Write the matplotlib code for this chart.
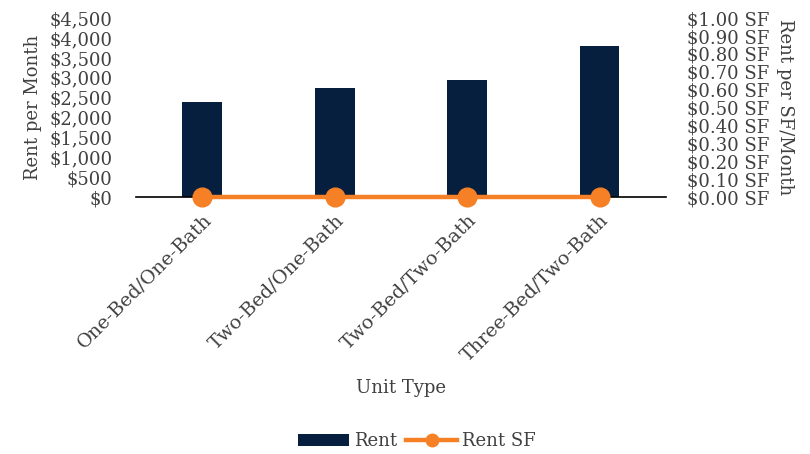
import matplotlib
matplotlib.use("Agg")
import matplotlib.pyplot as plt
from matplotlib.ticker import FuncFormatter, MultipleLocator
from matplotlib.lines import Line2D
from matplotlib.patches import Patch

categories = ["One-Bed/One-Bath", "Two-Bed/One-Bath", "Two-Bed/Two-Bath", "Three-Bed/Two-Bath"]
rent = [2400, 2750, 2950, 3800]
rent_sf = [0.0, 0.0, 0.0, 0.0]

bar_color = "#061F3F"
line_color = "#F58025"
text_color = "#404040"

plt.rcParams['font.family'] = ['DejaVu Serif']
fs = 13

fig = plt.figure(figsize=(8.10, 4.54), dpi=100)
ax = fig.add_axes([0.168, 0.566, 0.654, 0.394])
x = list(range(len(categories)))
ax.bar(x, rent, width=0.3, color=bar_color, label="Rent", zorder=2)
ax.set_xlim(-0.5, len(categories) - 0.5)
ax.set_ylim(0, 4500)
ax.yaxis.set_major_locator(MultipleLocator(500))
ax.yaxis.set_major_formatter(FuncFormatter(lambda v, p: f"${v:,.0f}"))
for s in ["top", "left", "right"]:
    ax.spines[s].set_visible(False)
ax.spines["bottom"].set_color("black")
ax.spines["bottom"].set_linewidth(1.2)
ax.tick_params(axis="y", length=0, labelsize=fs, colors=text_color, pad=17)
ax.set_xticks(x)
ax.set_xticklabels(categories, rotation=45, ha="right", rotation_mode="anchor")
ax.tick_params(axis="x", length=0, labelsize=13.8, colors=text_color, pad=10)
ax.set_ylabel("Rent per Month", fontsize=fs, color=text_color, labelpad=5)
ax.set_xlabel("Unit Type", fontsize=fs, color=text_color, labelpad=10)

ax2 = ax.twinx()
ax2.plot(x, rent_sf, color=line_color, linewidth=3.2, marker="o", markersize=13.5,
         label="Rent SF", zorder=3, clip_on=False)
ax2.set_ylim(0, 1.0)
ax2.yaxis.set_major_locator(MultipleLocator(0.1))
ax2.yaxis.set_major_formatter(FuncFormatter(lambda v, p: f"${v:.2f} SF"))
for s in ["top", "left", "right", "bottom"]:
    ax2.spines[s].set_visible(False)
ax2.tick_params(axis="y", length=0, labelsize=fs, colors=text_color, pad=15)
ax2.set_ylabel("Rent per SF/Month", fontsize=fs, color=text_color, rotation=270, labelpad=18)

handles = [Patch(facecolor=bar_color, edgecolor="none"),
           Line2D([], [], color=line_color, linewidth=3.2, marker="o", markersize=9)]
fig.legend(handles, ["Rent", "Rent SF"], loc="center", bbox_to_anchor=(0.515, 0.028), ncol=2,
           frameon=False, fontsize=fs, labelcolor=text_color, handlelength=2.8,
           handletextpad=0.3, columnspacing=0.5)

fig.savefig("out.png", dpi=100)
